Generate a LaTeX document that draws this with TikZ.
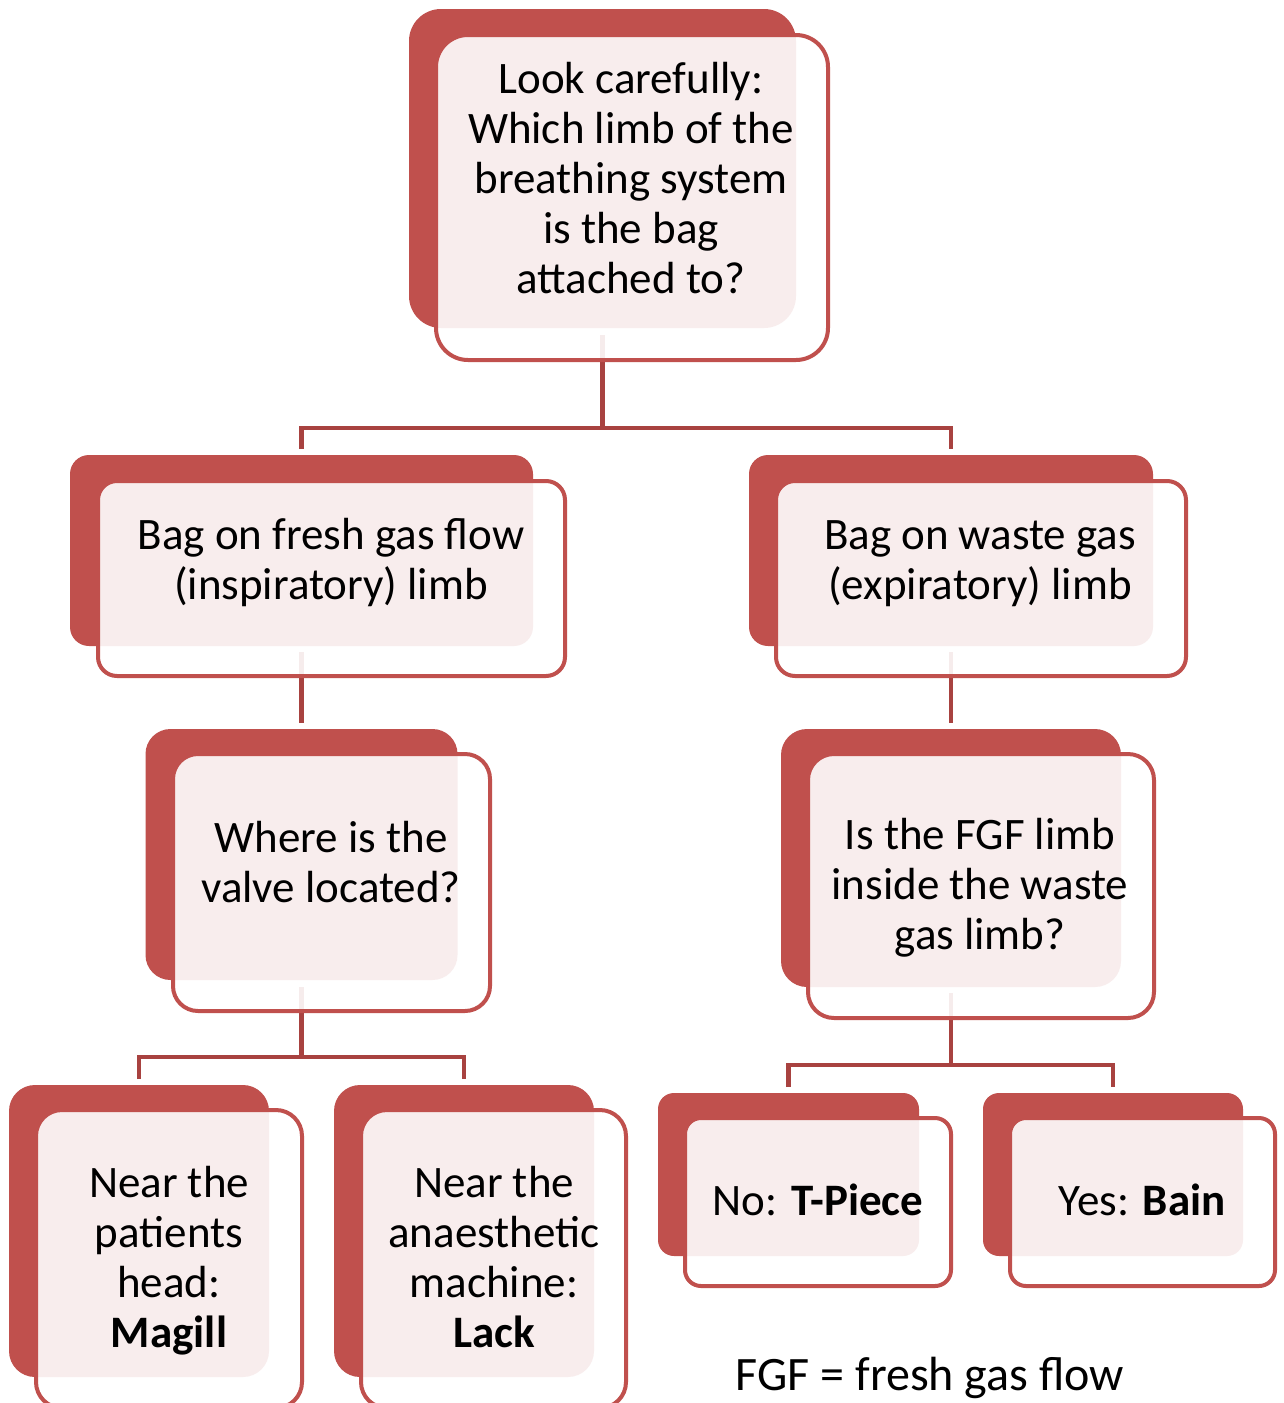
\documentclass[tikz,border=0pt]{standalone}
\usepackage{fontspec}
\setmainfont{Carlito}
\definecolor{boxred}{RGB}{192,80,77}
\definecolor{connred}{RGB}{168,66,64}
\begin{document}
\begin{tikzpicture}[x=1pt,y=-1pt,
  darkbox/.style={fill=boxred, draw=none, inner sep=0pt, outer sep=0pt, rounded corners=#1},
  framebox/.style={draw=boxred, line width=4pt, fill=white, fill opacity=0.9, inner sep=0pt, outer sep=0pt, rounded corners=#1},
  conn/.style={draw=connred, line width=4.5pt},
  boxtext/.style={inner sep=0pt, anchor=base, font=\fontsize{45}{50}\selectfont, text=black}]
\fill[white] (0,0) rectangle (1283,1403);
\useasboundingbox (0,0) rectangle (1283,1403);
\clip (0,0) rectangle (1283,1403);

% bus coordinates
\coordinate (busA) at (0,428);
\coordinate (busB) at (0,1057);
\coordinate (busC) at (0,1065);

% dark back shapes
\node[darkbox=32pt, minimum width=387pt, minimum height=319pt] (d1) at (602.5,168.5) {};
\node[darkbox=19pt, minimum width=463pt, minimum height=191pt] (d2) at (301.5,550.5) {};
\node[darkbox=19pt, minimum width=404pt, minimum height=191pt] (d3) at (951,550.5) {};
\node[darkbox=25pt, minimum width=312pt, minimum height=251pt] (d4) at (301.5,854.5) {};
\node[darkbox=26pt, minimum width=340pt, minimum height=258pt] (d5) at (951,858) {};
\node[darkbox=26pt, minimum width=260pt, minimum height=292pt] (d6) at (139,1231) {};
\node[darkbox=26pt, minimum width=260pt, minimum height=292pt] (d7) at (464,1231) {};
\node[darkbox=16pt, minimum width=261pt, minimum height=163pt] (d8) at (788.5,1174.5) {};
\node[darkbox=16pt, minimum width=260pt, minimum height=163pt] (d9) at (1113,1174.5) {};

% connectors
\draw[conn] ([yshift=-7pt]d1.south) -- (d1.south |- busA);
\draw[conn] ([yshift=6pt]d2.north) |- (busA -| d3.north) -- ([yshift=6pt]d3.north);
\draw[conn] ([yshift=-6pt]d2.south) -- ([yshift=6pt]d4.north);
\draw[conn] ([yshift=-6pt]d3.south) -- ([yshift=6pt]d5.north);
\draw[conn] ([yshift=-7pt]d4.south) -- (d4.south |- busB);
\draw[conn] ([yshift=6pt]d6.north) |- (busB -| d7.north) -- ([yshift=6pt]d7.north);
\draw[conn] ([yshift=-6pt]d5.south) -- (d5.south |- busC);
\draw[conn] ([yshift=6pt]d8.north) |- (busC -| d9.north) -- ([yshift=6pt]d9.north);

% front frames
\node[framebox=32pt, minimum width=392pt, minimum height=325pt] (f1) at (632,197.5) {};
\node[framebox=19pt, minimum width=467pt, minimum height=195pt] (f2) at (331.5,578.5) {};
\node[framebox=19pt, minimum width=410pt, minimum height=195pt] (f3) at (981,578.5) {};
\node[framebox=25pt, minimum width=317pt, minimum height=257pt] (f4) at (331.5,882.5) {};
\node[framebox=26pt, minimum width=346pt, minimum height=264pt] (f5) at (981,886) {};
\node[framebox=26pt, minimum width=266pt, minimum height=298pt] (f6) at (169,1259) {};
\node[framebox=26pt, minimum width=265pt, minimum height=298pt] (f7) at (493.5,1259) {};
\node[framebox=16pt, minimum width=266pt, minimum height=168pt] (f8) at (818,1202) {};
\node[framebox=16pt, minimum width=265pt, minimum height=168pt] (f9) at (1142.5,1202) {};

% texts
\node[boxtext] (t1) at (631,93) {\parbox[t]{420pt}{\centering Look carefully:\\Which limb of the\\breathing system\\is the bag\\attached to?}};
\node[boxtext] (t2) at (331,549) {\parbox[t]{480pt}{\centering Bag on fresh gas flow\\(inspiratory) limb}};
\node[boxtext] (t3) at (980,549) {\parbox[t]{420pt}{\centering Bag on waste gas\\(expiratory) limb}};
\node[boxtext] (t4) at (331,852) {\parbox[t]{330pt}{\centering Where is the\\valve located?}};
\node[boxtext] (t5) at (980,849) {\parbox[t]{360pt}{\centering Is the FGF limb\\inside the waste\\gas limb?}};
\node[boxtext] (t6) at (169,1197) {\parbox[t]{280pt}{\centering Near the\\patients\\head:\\\textbf{Magill}}};
\node[boxtext] (t7) at (494,1197) {\parbox[t]{280pt}{\centering Near the\\anaesthetic\\machine:\\\textbf{Lack}}};
\node[boxtext] (t8) at (818,1215) {No: \textbf{T-Piece}};
\node[boxtext] (t9) at (1142,1215) {Yes: \textbf{Bain}};
\node[boxtext, font=\fontsize{48}{54}\selectfont] (note) at (930,1390) {FGF = fresh gas flow};
\end{tikzpicture}
\end{document}
